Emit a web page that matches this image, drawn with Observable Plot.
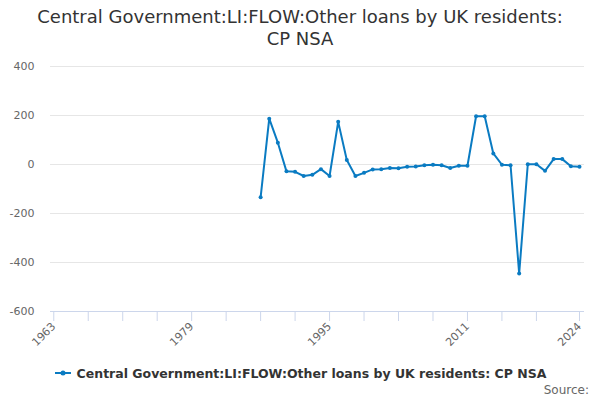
<!DOCTYPE html>
<html>
<head>
<meta charset="utf-8">
<script src="https://cdn.jsdelivr.net/npm/d3@7"></script>
<script src="https://cdn.jsdelivr.net/npm/@observablehq/plot@0.6"></script>
<style>
  body { margin: 0; background: #fff; font-family: "DejaVu Sans", sans-serif; }
  #wrap { width: 600px; height: 400px; position: relative; overflow: hidden; }
  #title { margin: 0; padding-top: 6px; height: 44px; font-size: 18px; line-height: 22px; text-align: center; color: #333; font-weight: normal; }
  #legend { height: 26px; display: flex; justify-content: center; align-items: center; font-size: 12.5px; font-weight: bold; color: #333; }
  #source { position: absolute; right: 11px; top: 383px; font-size: 12px; color: #666; }
</style>
</head>
<body>
<div id="wrap">
  <div id="title">Central Government:LI:FLOW:Other loans by UK residents:<br>CP NSA</div>
  <div id="chart"></div>
  <div id="legend"></div>
  <div id="source">Source:</div>
</div>
<script>
const seriesName = 'Central Government:LI:FLOW:Other loans by UK residents: CP NSA';
const years = [1987, 1988, 1989, 1990, 1991, 1992, 1993, 1994, 1995, 1996,
  1997, 1998, 1999, 2000, 2001, 2002, 2003, 2004, 2005, 2006,
  2007, 2008, 2009, 2010, 2011, 2012, 2013, 2014, 2015, 2016,
  2017, 2018, 2019, 2020, 2021, 2022, 2023, 2024];
const values = [-134, 187, 89, -28, -30, -47, -42, -19, -47, 174,
  18, -47, -34, -20, -19, -14, -15, -9, -8, -3,
  -1, -3, -14, -5, -5, 197, 197, 45, -1, -3,
  -445, 1, 1, -26, 22, 22, -7, -9];
const yTicks = [-600, -400, -200, 0, 200, 400];
const xTicks = [1963, 1967, 1971, 1975, 1979, 1983, 1987, 1991, 1995, 1999, 2003, 2007, 2011, 2015, 2019, 2024];
const xLabels = [1963, 1979, 1995, 2011, 2024];

const blue = '#0a7bc2';
const data = years.map((year, i) => ({ year, value: values[i] }));

const chart = Plot.plot({
  width: 600,
  height: 310,
  marginTop: 16,
  marginBottom: 49,
  marginLeft: 50,
  marginRight: 16,
  style: { fontFamily: 'DejaVu Sans', fontSize: '11px', color: '#666', background: '#fff' },
  x: { domain: [1962.62, 2024.58] },
  y: { domain: [-600, 400] },
  marks: [
    Plot.gridY(yTicks, { stroke: '#e6e6e6', strokeOpacity: 1 }),
    Plot.axisY(yTicks, { tickSize: 0, tickPadding: 16, label: null, tickFormat: d => d }),
    Plot.ruleY([-600], { stroke: '#ccd6eb' }),
    Plot.axisX(xTicks, {
      tickSize: 10, tickPadding: 3, tickRotate: -45, stroke: '#ccd6eb', label: null,
      tickFormat: d => xLabels.includes(d) ? String(d) : ''
    }),
    Plot.line(data, { x: 'year', y: 'value', stroke: blue, strokeWidth: 2 }),
    Plot.dot(data, { x: 'year', y: 'value', fill: blue, r: 2 })
  ]
});

d3.select('#chart').append(() => chart);

// legend: line with a dot, then the series name
const leg = d3.select('#legend');
const sw = leg.append('svg').attr('width', 18).attr('height', 10).style('margin-right', '5px');
sw.append('line').attr('x1', 1).attr('x2', 17).attr('y1', 5).attr('y2', 5).attr('stroke', blue).attr('stroke-width', 2);
sw.append('circle').attr('cx', 9).attr('cy', 5).attr('r', 2.5).attr('fill', blue);
leg.append('span').text(seriesName);
</script>
</body>
</html>
